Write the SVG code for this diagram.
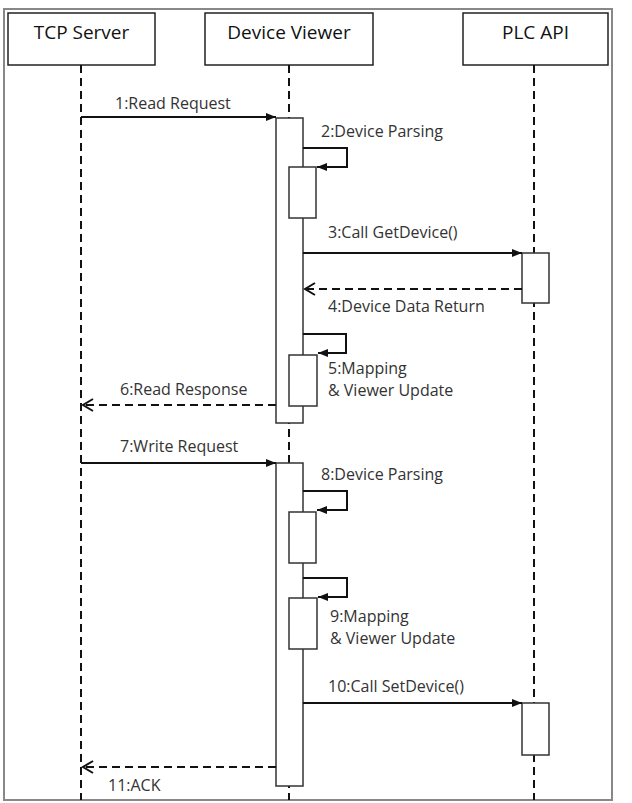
<svg xmlns="http://www.w3.org/2000/svg" width="632" height="803" viewBox="0 0 632 803">
<style>
.frame{fill:#fff;stroke:#888;stroke-width:2}
.head{fill:#fff;stroke:#222;stroke-width:1.5}
.htxt{font-family:"Open Sans","Liberation Sans",sans-serif;font-size:19px;fill:#111;text-anchor:middle}
.life{stroke:#111;stroke-width:2;stroke-dasharray:8 5;fill:none}
.act{fill:#fff;stroke:#333;stroke-width:1.5}
.msg{stroke:#111;stroke-width:2;fill:none;marker-end:url(#solid)}
.ret{stroke:#111;stroke-width:2;fill:none;stroke-dasharray:8 5;marker-end:url(#open)}
.lbl{font-family:"Open Sans","Liberation Sans",sans-serif;font-size:16px;fill:#333}
</style>
<defs>
<marker id="solid" markerUnits="userSpaceOnUse" markerWidth="10" markerHeight="8" refX="10" refY="4" orient="auto">
<path d="M0,0 L10,4 L0,8 z" fill="#111"/>
</marker>
<marker id="open" markerUnits="userSpaceOnUse" markerWidth="12" markerHeight="14" refX="11" refY="7" orient="auto" overflow="visible">
<path d="M1,1 L11,7 L1,13" fill="none" stroke="#111" stroke-width="2"/>
</marker>
</defs>
<rect class="frame" x="4" y="9" width="608" height="791"/>

<g id="tcp-server">
<rect class="head" x="8" y="13" width="147" height="52"/>
<text class="htxt" x="81.5" y="39">TCP Server</text>
<line class="life" x1="81" y1="65" x2="81" y2="800"/>
</g>

<g id="device-viewer">
<rect class="head" x="205" y="13" width="168" height="52"/>
<text class="htxt" x="289" y="39">Device Viewer</text>
<line class="life" x1="289" y1="65" x2="289" y2="800"/>
<rect class="act" x="276" y="118" width="27" height="305"/>
<rect class="act" x="276" y="463" width="27" height="323"/>
<rect class="act" x="289" y="167" width="27" height="51"/>
<rect class="act" x="289" y="355" width="28" height="51"/>
<rect class="act" x="289" y="512" width="27" height="51"/>
<rect class="act" x="289" y="598" width="28" height="51"/>
</g>

<g id="plc-api">
<rect class="head" x="463" y="13" width="145" height="52"/>
<text class="htxt" x="535.5" y="39">PLC API</text>
<line class="life" x1="534" y1="65" x2="534" y2="800"/>
<rect class="act" x="522" y="253" width="27" height="50"/>
<rect class="act" x="522" y="703" width="27" height="52"/>
</g>

<g id="connectors">
<line class="msg" x1="81" y1="117" x2="276" y2="117"/>
<path class="msg" d="M303,148 H347 V167 H317"/>
<line class="msg" x1="303" y1="253" x2="522" y2="253"/>
<line class="ret" x1="522" y1="289" x2="305" y2="289"/>
<path class="msg" d="M303,334 H346 V353 H318"/>
<line class="ret" x1="276" y1="405" x2="83" y2="405"/>
<line class="msg" x1="81" y1="463" x2="276" y2="463"/>
<path class="msg" d="M303,491 H347 V510 H317"/>
<path class="msg" d="M303,578 H347 V597 H318"/>
<line class="msg" x1="303" y1="703" x2="522" y2="703"/>
<line class="ret" x1="276" y1="767" x2="83" y2="767"/>
</g>

<g id="labels">
<text class="lbl" x="115" y="109">1:Read Request</text>
<text class="lbl" x="321" y="137">2:Device Parsing</text>
<text class="lbl" x="328" y="238">3:Call GetDevice()</text>
<text class="lbl" x="328" y="312">4:Device Data Return</text>
<text class="lbl" x="328" y="374">5:Mapping</text>
<text class="lbl" x="328" y="396">&amp; Viewer Update</text>
<text class="lbl" x="120" y="395">6:Read Response</text>
<text class="lbl" x="120" y="452">7:Write Request</text>
<text class="lbl" x="321" y="480">8:Device Parsing</text>
<text class="lbl" x="330" y="622">9:Mapping</text>
<text class="lbl" x="330" y="644">&amp; Viewer Update</text>
<text class="lbl" x="328" y="692">10:Call SetDevice()</text>
<text class="lbl" x="108" y="791">11:ACK</text>
</g>
</svg>
